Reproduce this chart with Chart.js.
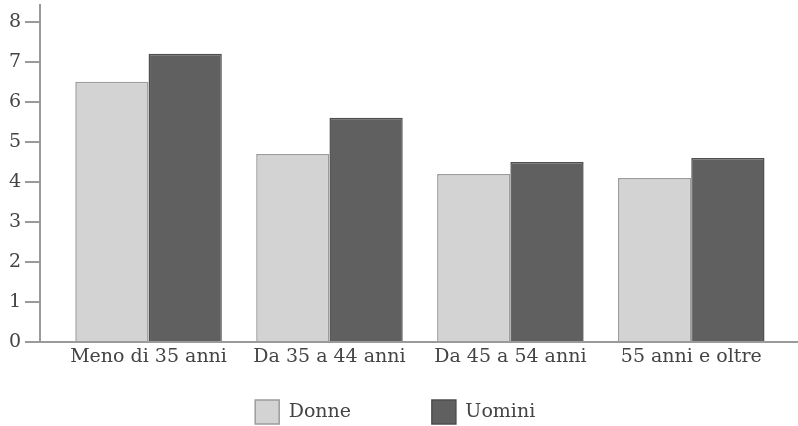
<!DOCTYPE html>
<html>
<head>
<meta charset="utf-8">
<script src="https://cdn.jsdelivr.net/npm/chart.js@4/dist/chart.umd.min.js"></script>
<style>
html,body{margin:0;padding:0;background:#fff;}
#wrap{width:798px;height:426px;}
</style>
</head>
<body>
<div id="wrap"><canvas id="c" width="798" height="426"></canvas></div>
<script>
const categories = ["Meno di 35 anni", "Da 35 a 44 anni", "Da 45 a 54 anni", "55 anni e oltre"];
const donne = [6.5, 4.7, 4.2, 4.1];
const uomini = [7.2, 5.6, 4.5, 4.6];
const seriesNames = ["Donne", "Uomini"];
const yTicks = [0, 1, 2, 3, 4, 5, 6, 7, 8];

const FONT = "'DejaVu Serif', 'Liberation Serif', serif";
const toPoints = arr => arr.map((v, i) => ({x: i, y: v}));

new Chart(document.getElementById('c'), {
  type: 'bar',
  data: {
    datasets: [
      {label: seriesNames[0], data: toPoints(donne), backgroundColor: '#d3d3d3', borderColor: '#9c9c9c', borderWidth: 1.5, categoryPercentage: 0.81, barPercentage: 1},
      {label: seriesNames[1], data: toPoints(uomini), backgroundColor: '#606060', borderColor: '#4e4e4e', borderWidth: 1.5, categoryPercentage: 0.81, barPercentage: 1}
    ]
  },
  options: {
    responsive: false,
    animation: false,
    layout: {padding: {left: 0, right: 0, top: 0, bottom: -8}},
    plugins: {
      tooltip: {enabled: false},
      legend: {
        position: 'bottom',
        labels: {
          boxWidth: 24, boxHeight: 24, padding: 20,
          color: '#444',
          font: {family: FONT, size: 19},
          generateLabels: (chart) => {
            const items = Chart.defaults.plugins.legend.labels.generateLabels(chart);
            items[0].text = items[0].text + '\u2003\u2003\u2003\u2009';
            items[1].text = items[1].text + '\u2009\u2009';
            return items;
          }
        }
      }
    },
    scales: {
      x: {
        type: 'linear',
        offset: false,
        min: -0.6, max: 3.59,
        ticks: {stepSize: 1, color: '#444', font: {family: FONT, size: 19}, padding: 4, maxRotation: 0, autoSkip: false,
          callback: (v) => categories[v]},
        afterBuildTicks: (s) => { s.ticks = s.ticks.filter(t => Number.isInteger(t.value) && t.value >= 0 && t.value < categories.length); },
        afterFit: (s) => { s.height = 38; s.paddingLeft = 0; s.paddingRight = 0; },
        grid: {display: true, drawOnChartArea: false, drawTicks: false},
        border: {display: true, color: '#9a9a9a', width: 2}
      },
      y: {
        min: 0, max: 8.42,
        ticks: {stepSize: 1, color: '#444', font: {family: FONT, size: 19}, padding: 4},
        afterBuildTicks: (s) => { s.ticks = yTicks.map(v => ({value: v})); },
        afterFit: (s) => { s.width = 40; s.paddingTop = 5; s.paddingBottom = 0; },
        grid: {display: true, drawOnChartArea: false, drawTicks: true, tickLength: 15, color: '#9a9a9a', lineWidth: 2},
        border: {display: true, color: '#9a9a9a', width: 2}
      }
    }
  }
});
</script>
</body>
</html>
